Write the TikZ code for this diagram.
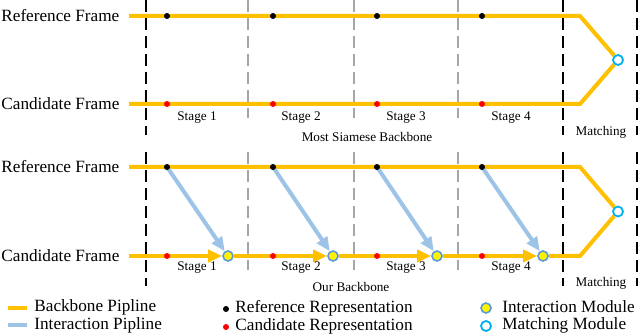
\documentclass[tikz,border=0pt]{standalone}
\usepackage{fontspec}
\setmainfont{Liberation Serif}
\usetikzlibrary{arrows.meta, backgrounds}

\definecolor{bbyellow}{HTML}{FFC000}
\definecolor{ipblue}{HTML}{9DC3E6}
\definecolor{mmblue}{HTML}{00B0F0}
\definecolor{imblue}{HTML}{5B9BD5}

\begin{document}
\begin{tikzpicture}[
    x=0.5pt, y=-0.5pt,
    every node/.style={font=\fontsize{8.6}{10}\selectfont},
    txt/.style={anchor=west, inner sep=0pt},
    stagelbl/.style={inner sep=0pt, font=\fontsize{6.6}{8}\selectfont},
    backbone/.style={draw=bbyellow, line width=2pt},
    interact/.style={draw=ipblue, line width=2pt},
    refdot/.style={circle, fill=black, inner sep=0pt, minimum size=3pt},
    canddot/.style={circle, fill=red, inner sep=0pt, minimum size=3pt},
    intmod/.style={circle, draw=imblue, fill=yellow, line width=0.8pt, inner sep=0pt, minimum size=5pt},
    matchmod/.style={circle, draw=mmblue, fill=white, line width=0.9pt, inner sep=0pt, minimum size=5pt},
    blocksep/.style={black, line width=0.6pt, dash pattern=on 6pt off 3pt},
    stagesep/.style={gray!70, line width=0.6pt, dash pattern=on 6pt off 3pt},
    >={Triangle[length=7pt, width=6pt]},
]
\useasboundingbox (0,0) rectangle (640,335);

% Separators
\foreach \x in {146,563,637} {
    \draw[blocksep] (\x,0) -- (\x,135);
    \draw[blocksep] (\x,152) -- (\x,286);
}
\foreach \x in {248,354,458} {
    \draw[stagesep] (\x,0) -- (\x,118);
    \draw[stagesep] (\x,152) -- (\x,270);
}

% Most Siamese backbone
\node[txt] (ref1) at (1,16) {Reference Frame};
\node[txt] (cand1) at (1,104) {Candidate Frame};
\coordinate (rs1) at (129,16);
\coordinate (cs1) at (129,104);
\coordinate (rb1) at (580,16);
\coordinate (cb1) at (580,104);
\foreach \i/\x in {1/167,2/273,3/377,4/482} {
    \node[refdot] (rd1\i) at (\x,16) {};
    \node[canddot] (cd1\i) at (\x,104) {};
}
\node[matchmod] (mm1) at (618,60) {};
\begin{scope}[on background layer]
    \draw[backbone] (rs1) -- (rb1) -- (mm1);
    \draw[backbone] (cs1) -- (cb1) -- (mm1);
\end{scope}
\foreach \i/\x in {1/197,2/301,3/406,4/511} {
    \node[stagelbl] (st1\i) at (\x,118) {Stage \i};
}
\node[stagelbl] (mt1) at (601,132) {Matching};
\node[stagelbl] (cap1) at (367,137) {Most Siamese Backbone};

% Our backbone
\node[txt] (ref2) at (1,167) {Reference Frame};
\node[txt] (cand2) at (1,256) {Candidate Frame};
\coordinate (rs2) at (129,167);
\coordinate (cs2) at (129,256);
\coordinate (rb2) at (580,167);
\coordinate (cb2) at (580,256);
\foreach \i/\x/\m in {1/167/228,2/273/333,3/377/437,4/482/543} {
    \node[refdot] (rd2\i) at (\x,167) {};
    \node[canddot] (cd2\i) at (\x,256) {};
    \node[intmod] (im\i) at (\m,256) {};
}
\node[matchmod] (mm2) at (618,211.5) {};
\begin{scope}[on background layer]
    \draw[backbone] (rs2) -- (rb2) -- (mm2);
    \draw[backbone, ->] (cs2) -- (im1);
    \draw[backbone, ->] (im1) -- (im2);
    \draw[backbone, ->] (im2) -- (im3);
    \draw[backbone, ->] (im3) -- (im4);
    \draw[backbone] (im4) -- (cb2) -- (mm2);
    \foreach \i in {1,...,4} {
        \draw[interact, ->] (rd2\i.center) -- (im\i);
    }
\end{scope}
\foreach \i/\x in {1/197,2/301,3/406,4/511} {
    \node[stagelbl] (st2\i) at (\x,268) {Stage \i};
}
\node[stagelbl] (mt2) at (601,283) {Matching};
\node[stagelbl] (cap2) at (351,287) {Our Backbone};

% Legend
\coordinate (lbb1) at (8,308);
\coordinate (lbb2) at (27,308);
\coordinate (lip1) at (8,325);
\coordinate (lip2) at (27,325);
\draw[backbone] (lbb1) -- (lbb2);
\draw[interact] (lip1) -- (lip2);
\node[txt] (lgbb) at (34,307) {Backbone Pipline};
\node[txt] (lgip) at (34,325) {Interaction Pipline};
\node[refdot] (lrd) at (226,309) {};
\node[canddot] (lcd) at (226,327) {};
\node[txt] (lgrd) at (235,308) {Reference Representation};
\node[txt] (lgcd) at (235,326) {Candidate Representation};
\node[intmod] (lim) at (486,308) {};
\node[matchmod] (lmm) at (486,326) {};
\node[txt] (lgim) at (502,307) {Interaction Module};
\node[txt] (lgmm) at (502,325) {Matching Module};
\end{tikzpicture}
\end{document}
